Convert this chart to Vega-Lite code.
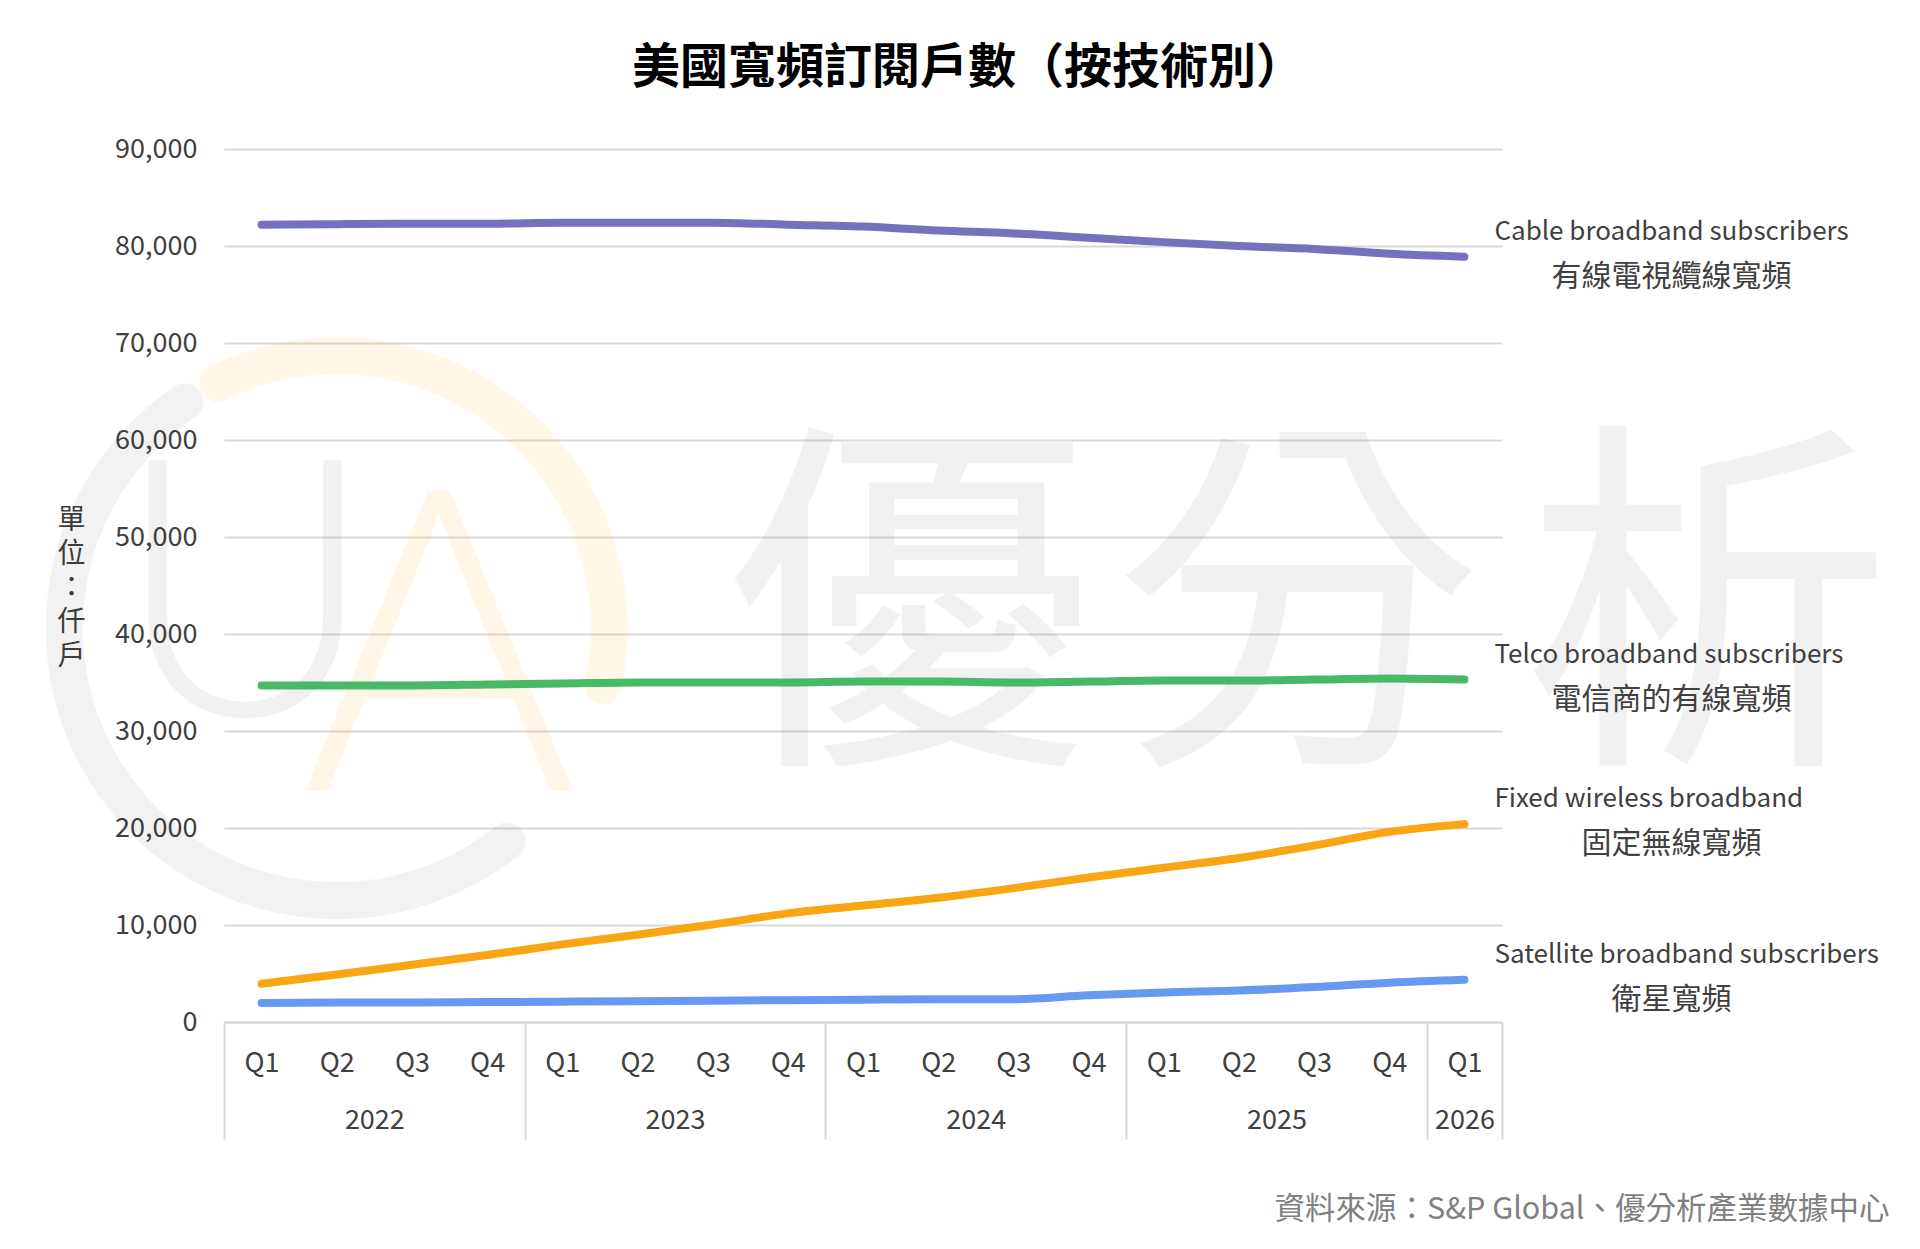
{
  "$schema": "https://vega.github.io/schema/vega-lite/v6.json",
  "width": 1278,
  "height": 873,
  "autosize": {"type": "none"},
  "padding": {"left": 224, "top": 149, "right": 418, "bottom": 227},
  "background": "white",
  "title": {
    "text": "美國寬頻訂閱戶數（按技術別）",
    "font": "Noto Sans CJK TC",
    "fontSize": 48,
    "fontWeight": "bold",
    "color": "#000000",
    "anchor": "middle",
    "frame": "group",
    "dx": 105,
    "offset": 42
  },
  "config": {
    "view": {"stroke": null},
    "font": "Noto Sans CJK TC"
  },
  "datasets": {
    "labels": [
      {"series": "Cable", "en": "Cable broadband subscribers", "zh": "有線電視纜線寬頻"},
      {"series": "Telco", "en": "Telco broadband subscribers", "zh": "電信商的有線寬頻"},
      {"series": "Fixed", "en": "Fixed wireless broadband", "zh": "固定無線寬頻"},
      {"series": "Satellite", "en": "Satellite broadband subscribers", "zh": "衛星寬頻"}
    ]
  },
  "data": {
    "values": [
      {"period": "2022Q1", "series": "Cable", "value": 82200},
      {"period": "2022Q2", "series": "Cable", "value": 82250},
      {"period": "2022Q3", "series": "Cable", "value": 82300},
      {"period": "2022Q4", "series": "Cable", "value": 82300},
      {"period": "2023Q1", "series": "Cable", "value": 82400},
      {"period": "2023Q2", "series": "Cable", "value": 82400},
      {"period": "2023Q3", "series": "Cable", "value": 82400},
      {"period": "2023Q4", "series": "Cable", "value": 82200},
      {"period": "2024Q1", "series": "Cable", "value": 82000},
      {"period": "2024Q2", "series": "Cable", "value": 81600},
      {"period": "2024Q3", "series": "Cable", "value": 81300},
      {"period": "2024Q4", "series": "Cable", "value": 80850},
      {"period": "2025Q1", "series": "Cable", "value": 80400},
      {"period": "2025Q2", "series": "Cable", "value": 80000},
      {"period": "2025Q3", "series": "Cable", "value": 79700},
      {"period": "2025Q4", "series": "Cable", "value": 79200},
      {"period": "2026Q1", "series": "Cable", "value": 78900},
      {"period": "2022Q1", "series": "Telco", "value": 34700},
      {"period": "2022Q2", "series": "Telco", "value": 34700},
      {"period": "2022Q3", "series": "Telco", "value": 34700},
      {"period": "2022Q4", "series": "Telco", "value": 34800},
      {"period": "2023Q1", "series": "Telco", "value": 34900},
      {"period": "2023Q2", "series": "Telco", "value": 35000},
      {"period": "2023Q3", "series": "Telco", "value": 35000},
      {"period": "2023Q4", "series": "Telco", "value": 35000},
      {"period": "2024Q1", "series": "Telco", "value": 35100},
      {"period": "2024Q2", "series": "Telco", "value": 35100},
      {"period": "2024Q3", "series": "Telco", "value": 35000},
      {"period": "2024Q4", "series": "Telco", "value": 35100},
      {"period": "2025Q1", "series": "Telco", "value": 35200},
      {"period": "2025Q2", "series": "Telco", "value": 35200},
      {"period": "2025Q3", "series": "Telco", "value": 35300},
      {"period": "2025Q4", "series": "Telco", "value": 35400},
      {"period": "2026Q1", "series": "Telco", "value": 35300},
      {"period": "2022Q1", "series": "Fixed", "value": 3950},
      {"period": "2022Q2", "series": "Fixed", "value": 4900},
      {"period": "2022Q3", "series": "Fixed", "value": 5900},
      {"period": "2022Q4", "series": "Fixed", "value": 6900},
      {"period": "2023Q1", "series": "Fixed", "value": 8000},
      {"period": "2023Q2", "series": "Fixed", "value": 9000},
      {"period": "2023Q3", "series": "Fixed", "value": 10050},
      {"period": "2023Q4", "series": "Fixed", "value": 11200},
      {"period": "2024Q1", "series": "Fixed", "value": 12000},
      {"period": "2024Q2", "series": "Fixed", "value": 12800},
      {"period": "2024Q3", "series": "Fixed", "value": 13800},
      {"period": "2024Q4", "series": "Fixed", "value": 14900},
      {"period": "2025Q1", "series": "Fixed", "value": 15900},
      {"period": "2025Q2", "series": "Fixed", "value": 16900},
      {"period": "2025Q3", "series": "Fixed", "value": 18200},
      {"period": "2025Q4", "series": "Fixed", "value": 19600},
      {"period": "2026Q1", "series": "Fixed", "value": 20400},
      {"period": "2022Q1", "series": "Satellite", "value": 1950},
      {"period": "2022Q2", "series": "Satellite", "value": 2000},
      {"period": "2022Q3", "series": "Satellite", "value": 2000},
      {"period": "2022Q4", "series": "Satellite", "value": 2050},
      {"period": "2023Q1", "series": "Satellite", "value": 2100},
      {"period": "2023Q2", "series": "Satellite", "value": 2150},
      {"period": "2023Q3", "series": "Satellite", "value": 2200},
      {"period": "2023Q4", "series": "Satellite", "value": 2250},
      {"period": "2024Q1", "series": "Satellite", "value": 2300},
      {"period": "2024Q2", "series": "Satellite", "value": 2350},
      {"period": "2024Q3", "series": "Satellite", "value": 2350},
      {"period": "2024Q4", "series": "Satellite", "value": 2750},
      {"period": "2025Q1", "series": "Satellite", "value": 3050},
      {"period": "2025Q2", "series": "Satellite", "value": 3250},
      {"period": "2025Q3", "series": "Satellite", "value": 3600},
      {"period": "2025Q4", "series": "Satellite", "value": 4050},
      {"period": "2026Q1", "series": "Satellite", "value": 4350}
    ]
  },
  "layer": [
    {
      "data": {"values": [{}]},
      "layer": [
        {
          "mark": {"type": "text", "text": "優", "fontSize": 370, "color": "#000000", "opacity": 0.05, "align": "center", "baseline": "middle"},
          "encoding": {
            "x": {
              "datum": 9.11,
              "type": "quantitative",
              "scale": {"domain": [0, 17], "nice": false, "zero": false},
              "axis": {
                "orient": "bottom",
                "values": [0, 2, 4, 6, 8, 10, 12, 14, 16, 16.5, 17],
                "domain": true,
                "domainColor": "#D9D9D9",
                "domainWidth": 2,
                "ticks": true,
                "tickSize": 117,
                "tickWidth": 2,
                "tickColor": "#D9D9D9",
                "tickOpacity": {"condition": {"test": "indexof([0, 4, 8, 12, 16, 17], datum.value) >= 0", "value": 1}, "value": 0},
                "grid": false,
                "labelExpr": "datum.value == 2 ? '2022' : datum.value == 6 ? '2023' : datum.value == 10 ? '2024' : datum.value == 14 ? '2025' : datum.value == 16.5 ? '2026' : ''",
                "labelFontSize": 27,
                "labelColor": "#404040",
                "labelPadding": -19,
                "labelBaseline": "middle",
                "labelOverlap": false,
                "labelFlush": false,
                "labelBound": false,
                "title": null
              }
            },
            "y": {"datum": 40900, "type": "quantitative", "scale": {"domain": [0, 90000], "nice": false}}
          }
        },
        {
          "mark": {"type": "text", "text": "分", "fontSize": 370, "color": "#000000", "opacity": 0.05, "align": "center", "baseline": "middle"},
          "encoding": {
            "x": {"datum": 14.28, "type": "quantitative"},
            "y": {"datum": 40900, "type": "quantitative"}
          }
        },
        {
          "mark": {"type": "text", "text": "析", "fontSize": 370, "color": "#000000", "opacity": 0.05, "align": "center", "baseline": "middle"},
          "encoding": {
            "x": {"datum": 19.73, "type": "quantitative"},
            "y": {"datum": 40900, "type": "quantitative"}
          }
        },
        {
          "mark": {"type": "arc", "radius": 254, "radius2": 291, "theta": 2.4, "theta2": 5.76, "cornerRadius": 18, "color": "#000000", "opacity": 0.05},
          "encoding": {
            "x": {"datum": 1.5, "type": "quantitative"},
            "y": {"datum": 40600, "type": "quantitative"}
          }
        },
        {
          "mark": {"type": "arc", "radius": 254, "radius2": 291, "theta": -0.52, "theta2": 1.85, "cornerRadius": 18, "color": "#FFA500", "opacity": 0.09},
          "encoding": {
            "x": {"datum": 1.5, "type": "quantitative"},
            "y": {"datum": 40600, "type": "quantitative"}
          }
        },
        {
          "mark": {"type": "text", "text": "U", "font": "Lato", "fontWeight": 300, "fontSize": 360, "color": "#000000", "opacity": 0.05, "align": "center", "baseline": "middle"},
          "encoding": {
            "x": {"datum": 0.28, "type": "quantitative"},
            "y": {"datum": 42800, "type": "quantitative"}
          }
        },
        {
          "mark": {"type": "text", "text": "A", "font": "Lato", "fontWeight": 300, "fontSize": 425, "color": "#FFA500", "opacity": 0.09, "align": "center", "baseline": "middle"},
          "encoding": {
            "x": {"datum": 2.86, "type": "quantitative"},
            "y": {"datum": 37000, "type": "quantitative"}
          }
        }
      ]
    },
    {
      "layer": [
        {
          "mark": {"type": "line", "strokeWidth": 8, "interpolate": "monotone", "strokeCap": "round", "strokeJoin": "round"},
          "encoding": {
            "x": {
              "field": "period",
              "type": "ordinal",
              "scale": {"paddingInner": 0, "paddingOuter": 0},
              "axis": {
                "orient": "bottom",
                "domain": false,
                "ticks": false,
                "tickSize": 0,
                "labelExpr": "slice(datum.value, 4)",
                "labelAngle": 0,
                "labelFontSize": 27,
                "labelColor": "#404040",
                "labelPadding": 41,
                "labelBaseline": "middle",
                "title": "資料來源：S&P Global、優分析產業數據中心",
                "titleFontSize": 30.5,
                "titleFontWeight": "normal",
                "titleColor": "#808080",
                "titleX": 1665,
                "titleY": 187,
                "titleAlign": "right",
                "titleBaseline": "middle"
              }
            },
            "y": {
              "field": "value",
              "type": "quantitative",
              "scale": {"domain": [0, 90000], "nice": false},
              "axis": {
                "values": [0, 10000, 20000, 30000, 40000, 50000, 60000, 70000, 80000, 90000],
                "format": ",",
                "labelExpr": "format(datum.value, ',')",
                "grid": true,
                "gridColor": "#D9D9D9",
                "gridWidth": 2,
                "domain": false,
                "ticks": false,
                "tickSize": 0,
                "labelFontSize": 27,
                "labelColor": "#404040",
                "labelPadding": 27,
                "title": ["單", "位", "：", "仟", "戶"],
                "titleAngle": 0,
                "titleFontSize": 28,
                "titleFontWeight": "normal",
                "titleColor": "#404040",
                "titleLineHeight": 34,
                "titleX": -153,
                "titleY": 371,
                "titleAlign": "center",
                "titleBaseline": "middle"
              }
            },
            "color": {
              "field": "series",
              "type": "nominal",
              "scale": {
                "domain": ["Cable", "Telco", "Fixed", "Satellite"],
                "range": ["#7671BE", "#48B964", "#FAA514", "#6699F0"]
              },
              "legend": null
            }
          }
        },
        {
          "transform": [
            {"filter": "datum.period == '2026Q1'"},
            {"lookup": "series", "from": {"data": {"name": "labels"}, "key": "series", "fields": ["en", "zh"]}}
          ],
          "mark": {"type": "text", "align": "left", "baseline": "middle", "dx": 30, "dy": -25, "fontSize": 26, "color": "#404040"},
          "encoding": {
            "x": {"field": "period", "type": "ordinal"},
            "y": {"field": "value", "type": "quantitative"},
            "text": {"field": "en", "type": "nominal"}
          }
        },
        {
          "transform": [
            {"filter": "datum.period == '2026Q1'"},
            {"lookup": "series", "from": {"data": {"name": "labels"}, "key": "series", "fields": ["en", "zh"]}}
          ],
          "mark": {"type": "text", "align": "center", "baseline": "middle", "dx": 207, "dy": 20, "fontSize": 30, "color": "#404040"},
          "encoding": {
            "x": {"field": "period", "type": "ordinal"},
            "y": {"field": "value", "type": "quantitative"},
            "text": {"field": "zh", "type": "nominal"}
          }
        }
      ]
    }
  ],
  "resolve": {"scale": {"x": "independent"}}
}
